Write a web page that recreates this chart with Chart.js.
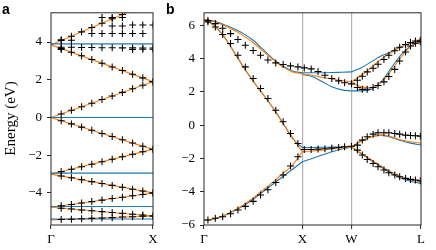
<!DOCTYPE html>
<html><head><meta charset="utf-8">
<script src="https://cdn.jsdelivr.net/npm/chart.js@4"></script>
<style>
html,body{margin:0;padding:0;background:#fff;}
#wrap{position:relative;width:436px;height:250px;overflow:hidden;}
canvas{position:absolute;top:0;}
#ca{left:0;}
#cb{left:165px;}
</style></head><body>
<div id="wrap"><canvas id="ca" width="165" height="250"></canvas><canvas id="cb" width="271" height="250"></canvas></div>
<script>
// ---------------- Panel a data ----------------
const aTickK = [0, 1];
const aTickNames = ['Γ', 'X'];
const aYTicks = [-4, -2, 0, 2, 4];
const aYRange = [-5.7, 5.55];
// orange zigzag vertices (k, E)
const aZigK = [1, 0, 1, 0, 1, 0, 1, 0, 1, 0];
const aZigE = [6.15, 3.85, 1.9, 0, -1.69, -3.0, -4.0, -4.76, -5.22, -5.43];
// blue flat bands
const aFlatE = [3.9, 0, -2.95, -4.72, -5.38];
// crosses: k positions and energy rows (null = no marker)
const aCrossK = [0.1, 0.2, 0.3, 0.4, 0.5, 0.6, 0.7, 0.8, 0.9, 1.0];
const aCrossRows = [
  [4.08, 4.31, 4.54, 4.77, 5.0, 5.23, 5.46, null, null, null],
  [null, null, null, 4.45, 4.45, 4.45, 4.45, 4.45, 4.45, null],
  [null, null, null, null, null, 4.85, 4.85, 4.9, 4.9, 4.9],
  [null, null, null, null, 5.3, 5.3, 5.3, null, null, null],
  [4.12, 4.1, null, null, null, null, null, null, null, null],
  [3.72, 3.72, 3.71, 3.71, 3.7, 3.7, 3.69, 3.69, 3.68, 3.68],
  [3.6, null, null, null, null, null, null, 3.6, 3.62, 3.62],
  [3.66, 3.46, 3.27, 3.07, 2.88, 2.68, 2.49, 2.29, 2.10, 1.90],
  [0.19, 0.38, 0.57, 0.76, 0.95, 1.14, 1.33, 1.52, 1.71, 1.9],
  [-0.17, -0.34, -0.51, -0.68, -0.85, -1.01, -1.18, -1.35, -1.52, -1.69],
  [-2.87, -2.74, -2.61, -2.48, -2.35, -2.21, -2.08, -1.95, -1.82, -1.69],
  [-3.1, -3.2, -3.3, -3.4, -3.5, -3.6, -3.7, -3.8, -3.9, -4.0],
  [-4.68, -4.61, -4.53, -4.46, -4.38, -4.30, -4.23, -4.15, -4.08, -4.0],
  [-4.81, -4.85, -4.90, -4.94, -4.99, -5.04, -5.08, -5.13, -5.17, -5.22],
  [-5.41, -5.39, -5.37, -5.35, -5.33, -5.31, -5.28, -5.26, -5.24, -5.22]
];

// ---------------- Panel b data ----------------
const bTickK = [0, 1, 1.5, 2.207];
const bTickNames = ['Γ', 'X', 'W', 'L'];
const bYTicks = [-6, -4, -2, 0, 2, 4, 6];
const bYRange = [-6, 6.75];
const kGX = [0, 0.1, 0.2, 0.3, 0.4, 0.5, 0.6, 0.7, 0.8, 0.9, 1.0];
const kXW = [1.0, 1.1, 1.2, 1.3, 1.4, 1.5];
const kWL = [1.5, 1.6, 1.7, 1.8, 1.9, 2.0, 2.1, 2.207];
// blue model bands
const blueGX = [
  [-5.7, -5.64, -5.45, -5.18, -4.85, -4.45, -4.0, -3.55, -3.1, -2.65, -2.2],
  [6.34, 6.0, 5.35, 4.45, 3.5, 2.65, 1.85, 1.05, 0.15, -0.8, -1.35],
  [6.34, 6.25, 6.05, 5.8, 5.5, 5.1, 4.55, 4.0, 3.55, 3.25, 3.14]
];
const blueXW = [
  [-2.2, -2.0, -1.8, -1.6, -1.43, -1.32],
  [-1.35, -1.34, -1.33, -1.32, -1.32, -1.32],
  [3.14, 3.15, 3.15, 3.16, 3.18, 3.2],
  [3.05, 2.92, 2.62, 2.3, 2.12, 2.06]
];
const blueWL = [
  [-1.32, -1.72, -2.12, -2.52, -2.88, -3.17, -3.37, -3.5],
  [-1.32, -0.95, -0.7, -0.6, -0.72, -0.92, -1.08, -1.2],
  [3.2, 3.45, 3.8, 4.15, 4.4, 4.7, 4.92, 5.06],
  [2.06, 2.06, 2.15, 2.6, 3.4, 4.2, 4.75, 5.02]
];
// orange model bands
const orangeGX = [
  [-5.7, -5.63, -5.43, -5.15, -4.8, -4.38, -3.9, -3.42, -2.92, -2.4, -1.6],
  [6.34, 6.0, 5.35, 4.45, 3.5, 2.65, 1.85, 1.05, 0.15, -0.75, -1.6],
  [6.34, 6.23, 6.0, 5.72, 5.38, 4.95, 4.45, 3.95, 3.5, 3.2, 3.08]
];
const orangeXW = [
  [-1.6, -1.55, -1.5, -1.43, -1.37, -1.32],
  [3.08, 3.0, 2.88, 2.77, 2.68, 2.6]
];
const orangeWL = [
  [-1.32, -1.7, -2.08, -2.45, -2.8, -3.08, -3.28, -3.4],
  [-1.32, -0.95, -0.7, -0.6, -0.7, -0.88, -1.0, -1.08],
  [2.6, 3.0, 3.45, 3.95, 4.35, 4.68, 4.92, 5.06],
  [2.6, 2.3, 2.25, 2.55, 3.25, 4.05, 4.7, 5.02]
];
// reference crosses
const cGXk = [0.04, 0.115, 0.19, 0.27, 0.345, 0.42, 0.5, 0.575, 0.65, 0.73, 0.805, 0.88, 0.955];
const cGX = [
  [6.28, 6.1, 5.82, 5.5, 5.14, 4.8, 4.48, 4.2, 3.92, 3.74, 3.64, 3.56, 3.5],
  [6.2, 5.9, 5.45, 4.9, 4.2, 3.5, 2.8, 2.2, 1.6, 0.9, 0.2, -0.5, -1.1],
  [-5.7, -5.6, -5.5, -5.32, -5.1, -4.88, -4.58, -4.2, -3.88, -3.45, -3.0, -2.46, -1.9]
];
const cXWk = [1.02, 1.09, 1.16, 1.23, 1.3, 1.37, 1.43, 1.5];
const cXW = [
  [-1.46, -1.46, -1.44, -1.42, -1.38, -1.34, -1.3, -1.27],
  [3.44, 3.38, 3.22, 3.0, 2.8, 2.66, 2.55, 2.48]
];
const cWLk = [1.56, 1.61, 1.66, 1.72, 1.77, 1.83, 1.88, 1.94, 1.99, 2.05, 2.1, 2.15, 2.2];
const cWL = [
  [-1.2, -0.9, -0.7, -0.54, -0.46, -0.46, -0.46, -0.5, -0.54, -0.6, -0.62, -0.64, -0.66],
  [-1.5, -1.8, -2.06, -2.3, -2.5, -2.7, -2.86, -3.0, -3.1, -3.2, -3.26, -3.3, -3.34],
  [2.7, 2.94, 3.2, 3.42, 3.66, 3.95, 4.2, 4.47, 4.68, 4.84, 4.97, 5.05, 5.1],
  [2.26, 2.15, 2.16, 2.26, 2.38, 2.6, 2.92, 3.35, 3.85, 4.4, 4.75, 4.92, 5.02]
];

// ---------------- helpers ----------------
const BLUE = '#1f77b4', ORANGE = '#ff7f0e', INK = '#262626';
const SERIF = "'Liberation Serif', 'DejaVu Serif', serif";
const pts = (ks, es) => ks.map((k, i) => ({x: k, y: es[i]})).filter(p => p.y !== null && p.y !== undefined);
const lineDS = (data, color, smooth) => ({
  type: 'line', data, borderColor: color, borderWidth: 1.1, pointRadius: 0, fill: false,
  cubicInterpolationMode: smooth ? 'monotone' : 'default', tension: 0, order: 2
});
const crossDS = (data) => ({
  type: 'scatter', data, showLine: false, pointStyle: 'cross', pointRadius: 3.5,
  pointBorderWidth: 1.05, borderColor: '#000', backgroundColor: '#000', order: 0
});

function frame(label, lx, ly) {
  return {
    id: 'frame' + label,
    afterDatasetsDraw(chart) {
      const {ctx, chartArea: a} = chart;
      ctx.save();
      ctx.strokeStyle = INK; ctx.lineWidth = 1;
      ctx.strokeRect(a.left, a.top, a.right - a.left, a.bottom - a.top);
      ctx.restore();
    },
    afterDraw(chart) {
      const ctx = chart.ctx;
      ctx.save();
      ctx.fillStyle = '#000';
      ctx.font = "bold 14px 'Liberation Sans', Arial, sans-serif";
      ctx.textBaseline = 'alphabetic';
      ctx.fillText(label, lx, ly);
      if (label === 'a') {
        ctx.translate(11, 118.5);
        ctx.rotate(-Math.PI / 2);
        ctx.font = "15px " + SERIF;
        ctx.textAlign = 'center';
        ctx.textBaseline = 'middle';
        ctx.fillText('Energy (eV)', 0, 0);
      }
      ctx.restore();
    }
  };
}

function makeOptions(xTicks, xNames, xMax, yTicks, yRange, yWidth, padRight, gridAt) {
  return {
    responsive: false, animation: false, devicePixelRatio: 1,
    layout: {padding: {top: 12.5, right: padRight, left: 0, bottom: 0}},
    plugins: {legend: {display: false}, tooltip: {enabled: false}},
    scales: {
      x: {
        type: 'linear', min: 0, max: xMax,
        afterBuildTicks: s => { s.ticks = xTicks.map(v => ({value: v})); },
        afterFit: s => { s.height = 25; },
        ticks: {
          callback: (v) => { const i = xTicks.indexOf(v); return i >= 0 ? xNames[i] : ''; },
          font: {family: SERIF, size: 13}, color: '#000', padding: 3, maxRotation: 0, autoSkip: false
        },
        grid: {
          drawOnChartArea: true, drawTicks: true, tickLength: 4, tickWidth: 1, tickColor: INK,
          color: (c) => (gridAt.includes(c.index) ? '#b3b3b3' : 'rgba(0,0,0,0)'), lineWidth: 1.2
        },
        border: {display: false}
      },
      y: {
        type: 'linear', min: yRange[0], max: yRange[1],
        afterBuildTicks: s => { s.ticks = yTicks.map(v => ({value: v})); },
        afterFit: s => { s.width = yWidth; },
        ticks: {
          callback: v => (v < 0 ? '\u2212' + Math.abs(v) : String(v)),
          font: {family: SERIF, size: 13}, color: '#000', padding: 5
        },
        grid: {drawOnChartArea: false, drawTicks: true, tickLength: 4, tickWidth: 1, tickColor: INK, color: INK},
        border: {display: false}
      }
    }
  };
}

// ---------------- Panel a ----------------
const dsA = [];
aCrossRows.forEach(r => dsA.push(crossDS(pts(aCrossK, r))));
aFlatE.forEach(e => dsA.push(lineDS(pts([0, 1], [e, e]), BLUE, false)));
dsA.push(lineDS(pts(aZigK, aZigE), ORANGE, false));
new Chart(document.getElementById('ca'), {
  type: 'scatter',
  data: {datasets: dsA},
  options: makeOptions(aTickK, aTickNames, 1, aYTicks, aYRange, 51, 12, []),
  plugins: [frame('a', 2, 14)]
});

// ---------------- Panel b ----------------
const dsB = [];
cGX.forEach(r => dsB.push(crossDS(pts(cGXk, r))));
cXW.forEach(r => dsB.push(crossDS(pts(cXWk, r))));
cWL.forEach(r => dsB.push(crossDS(pts(cWLk, r))));
orangeGX.forEach(r => dsB.push(lineDS(pts(kGX, r), ORANGE, true)));
orangeXW.forEach(r => dsB.push(lineDS(pts(kXW, r), ORANGE, true)));
orangeWL.forEach(r => dsB.push(lineDS(pts(kWL, r), ORANGE, true)));
blueGX.forEach(r => dsB.push(lineDS(pts(kGX, r), BLUE, true)));
blueXW.forEach(r => dsB.push(lineDS(pts(kXW, r), BLUE, true)));
blueWL.forEach(r => dsB.push(lineDS(pts(kWL, r), BLUE, true)));
new Chart(document.getElementById('cb'), {
  type: 'scatter',
  data: {datasets: dsB},
  options: makeOptions(bTickK, bTickNames, 2.207, bYTicks, bYRange, 39, 15, [1, 2]),
  plugins: [frame('b', 1, 14)]
});
</script>
</body></html>
